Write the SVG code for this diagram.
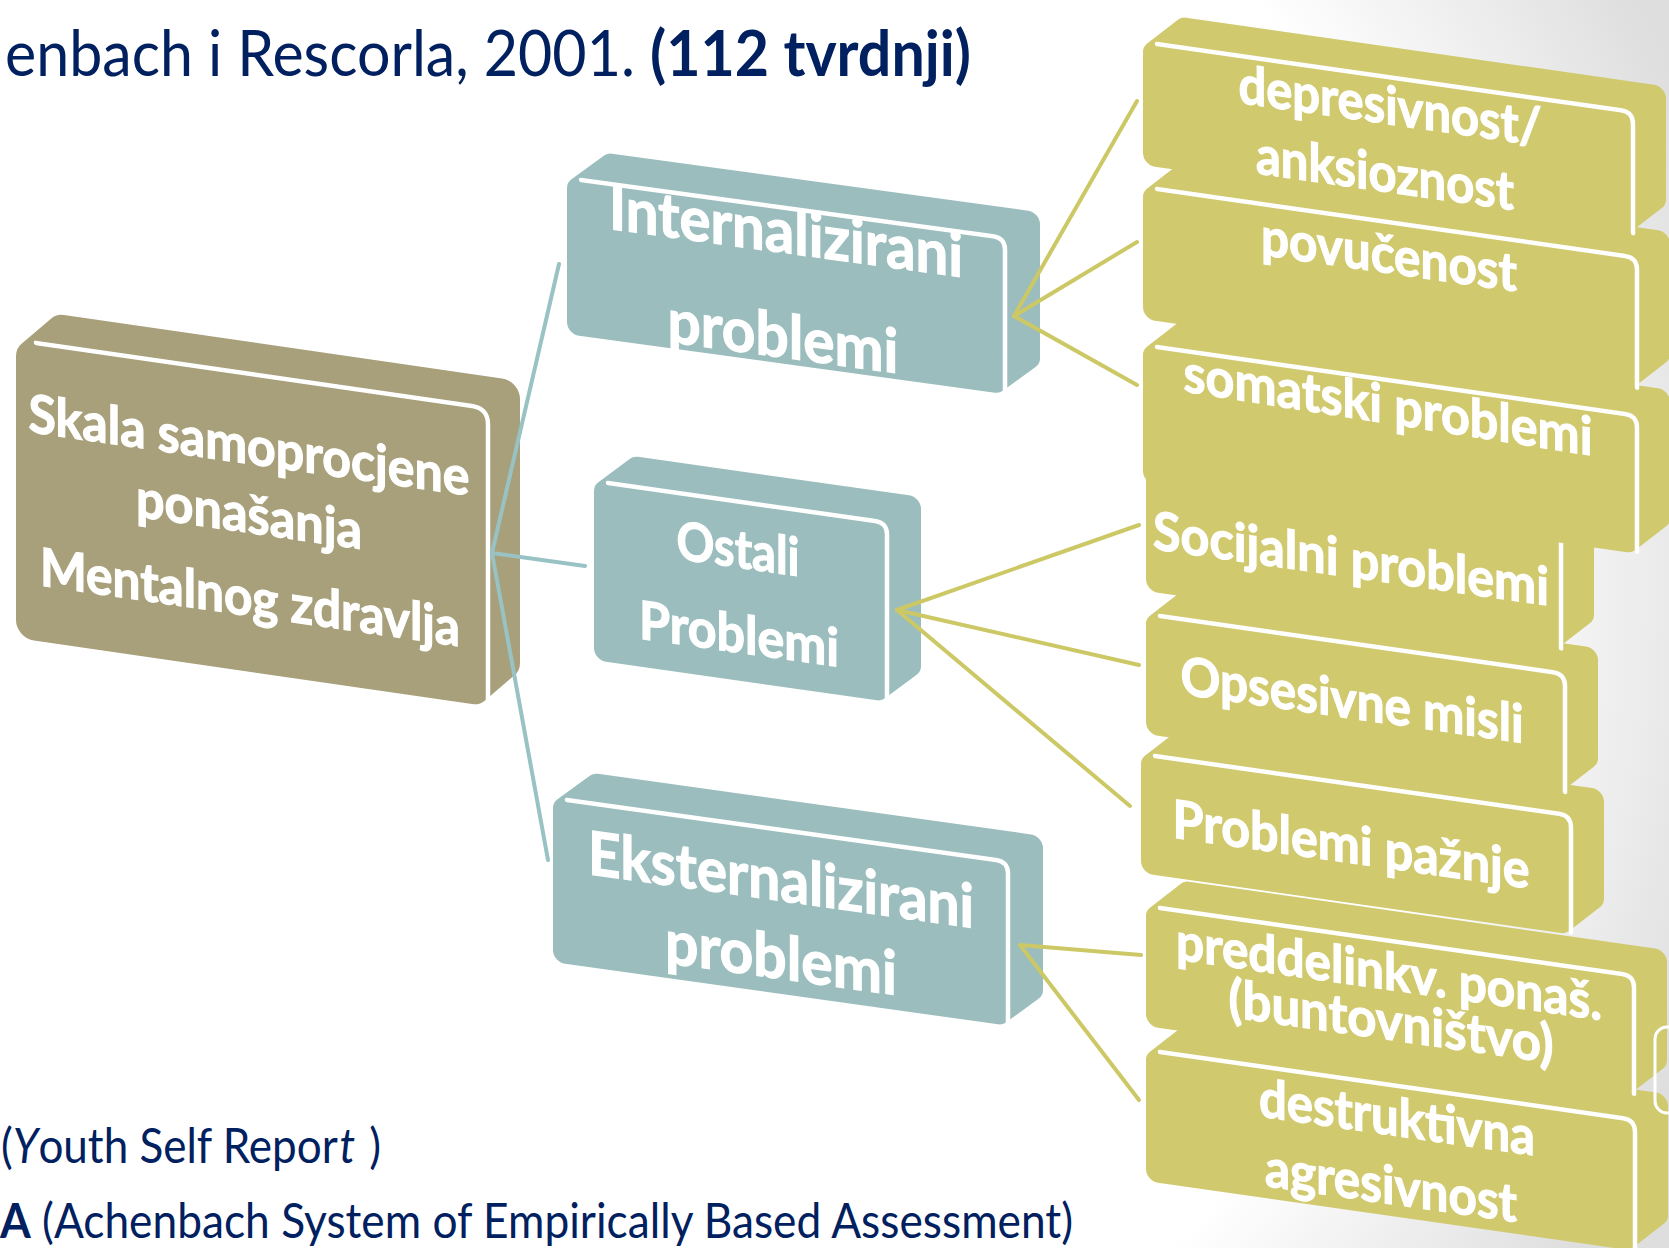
<svg xmlns="http://www.w3.org/2000/svg" width="1669" height="1248" viewBox="0 0 1669 1248">
<defs>
<radialGradient id="bg" gradientUnits="userSpaceOnUse" cx="560" cy="580" r="1220">
<stop offset="0" stop-color="#ffffff"/>
<stop offset="0.74" stop-color="#ffffff"/>
<stop offset="1" stop-color="#dedede"/>
</radialGradient>
<style>
.t{font-family:Lato,"Open Sans","Liberation Sans",sans-serif;font-weight:700;fill:#ffffff;stroke:#ffffff;stroke-width:1.2;text-anchor:middle}
.cap{font-family:Lato,"Open Sans","Liberation Sans",sans-serif;fill:#002060}
.edge{fill:none;stroke:#ffffff;stroke-width:4.5;stroke-linecap:round;stroke-linejoin:round}
.root{fill:#a7a07a;stroke:#a7a07a;stroke-width:36;stroke-linejoin:round}
.teal{fill:#9bbdbd;stroke:#9bbdbd;stroke-width:24;stroke-linejoin:round}
.yel{fill:#d0c96e;stroke:#d0c96e;stroke-width:24;stroke-linejoin:round}
.lt{stroke:#98c2c3;stroke-width:4;fill:none;stroke-linecap:round}
.ly{stroke:#cdc866;stroke-width:4;fill:none;stroke-linecap:round}
</style>
</defs>
<rect x="0" y="0" width="1669" height="1248" fill="url(#bg)"/>

<g id="captions">
<text class="cap" x="5" y="76" font-size="63.5" textLength="966" lengthAdjust="spacingAndGlyphs">enbach i Rescorla, 2001. <tspan font-weight="700">(112 tvrdnji)</tspan></text>
<text class="cap" x="1" y="1163" font-size="47.5" textLength="380" lengthAdjust="spacingAndGlyphs">(<tspan font-style="italic">Y</tspan>outh Self Repor<tspan font-style="italic" dx="2">t</tspan><tspan dx="3"> )</tspan></text>
<text class="cap" x="0" y="1238" font-size="47.5" textLength="1073" lengthAdjust="spacingAndGlyphs"><tspan font-weight="700">A</tspan> (Achenbach System of Empirically Based Assessment)</text>
</g>

<g id="node-root" transform="translate(16,338) skewY(8.25)">
<polygon class="root" points="18,18 48,-12 486,-12 486,252 456,282 18,282"/>
<path class="edge" d="M20 2 L456 2 Q472 2 472 18 L472 296"/>
<text class="t" x="233" y="92" font-size="53" textLength="441" lengthAdjust="spacingAndGlyphs">Skala samoprocjene</text>
<text class="t" x="233" y="161" font-size="53" textLength="226" lengthAdjust="spacingAndGlyphs">ponašanja</text>
<text class="t" x="234" y="244" font-size="53" textLength="420" lengthAdjust="spacingAndGlyphs">Mentalnog zdravlja</text>
</g>

<g id="node-internalizirani" transform="translate(567,176) skewY(7.8)">
<polygon class="teal" points="12,12 45,-16.5 461,-16.5 461,117.5 428,146 12,146"/>
<path class="edge" d="M14 2 L426 2 Q438 2 438 14 L438 156"/>
<text class="t" x="219" y="47" font-size="61" textLength="354" lengthAdjust="spacingAndGlyphs">Internalizirani</text>
<text class="t" x="216" y="152" font-size="61" textLength="231" lengthAdjust="spacingAndGlyphs">problemi</text>
</g>

<g id="node-ostali" transform="translate(594,479) skewY(8.1)">
<polygon class="teal" points="12,12 44,-16.5 315,-16.5 315,140.5 283,169 12,169"/>
<path class="edge" d="M14 2 L281 2 Q293 2 293 14 L293 179"/>
<text class="t" x="144" y="68" font-size="53" textLength="123" lengthAdjust="spacingAndGlyphs">Ostali</text>
<text class="t" x="145" y="153" font-size="53" textLength="200" lengthAdjust="spacingAndGlyphs">Problemi</text>
</g>

<g id="node-eksternalizirani" transform="translate(553,796) skewY(7.97)">
<polygon class="teal" points="12,12 45,-16.5 478,-16.5 478,125.5 445,154 12,154"/>
<path class="edge" d="M14 2 L443 2 Q455 2 455 14 L455 164"/>
<text class="t" x="228" y="73" font-size="60.5" textLength="386" lengthAdjust="spacingAndGlyphs">Eksternalizirani</text>
<text class="t" x="228" y="151" font-size="61" textLength="232" lengthAdjust="spacingAndGlyphs">problemi</text>
</g>

<g id="node-destruktivna" transform="translate(1146,1048) skewY(8.14)">
<polygon class="yel" points="12,12 43,-16.4 510,-16.4 510,92.6 479,121 12,121"/>
<path class="edge" d="M14 2 L477 2 Q489 2 489 14 L489 131"/>
<text class="t" x="251" y="52" font-size="53" textLength="276" lengthAdjust="spacingAndGlyphs">destruktivna</text>
<text class="t" x="245" y="121" font-size="53" textLength="252" lengthAdjust="spacingAndGlyphs">agresivnost</text>
</g>

<g id="node-preddelinkv" transform="translate(1146,904) skewY(8.14)">
<polygon class="yel" points="12,12 43,-16.4 509,-16.4 509,81.6 478,110 12,110"/>
<path class="edge" d="M14 2 L476 2 Q488 2 488 14 L488 120"/>
<text class="t" x="243" y="51" font-size="52" textLength="426" lengthAdjust="spacingAndGlyphs">preddelinkv. ponaš.</text>
<text class="t" x="245" y="101" font-size="53" textLength="325" lengthAdjust="spacingAndGlyphs">(buntovništvo)</text>
</g>

<g id="node-paznja" transform="translate(1141,752) skewY(8.14)">
<polygon class="yel" points="12,12 43,-16.4 451,-16.4 451,80.6 420,109 12,109"/>
<path class="edge" d="M14 2 L418 2 Q430 2 430 14 L430 119"/>
<text class="t" x="210" y="81" font-size="53" textLength="357" lengthAdjust="spacingAndGlyphs">Problemi pažnje</text>
</g>

<g id="node-opsesivne" transform="translate(1146,612) skewY(8.14)">
<polygon class="yel" points="12,12 43,-16.4 440,-16.4 440,81.6 409,110 12,110"/>
<path class="edge" d="M14 2 L407 2 Q419 2 419 14 L419 120"/>
<text class="t" x="206" y="77" font-size="53" textLength="343" lengthAdjust="spacingAndGlyphs">Opsesivne misli</text>
</g>

<g id="node-socijalni" transform="translate(1146,466) skewY(8.14)">
<polygon class="yel" points="12,12 43,-16.4 436,-16.4 436,84.6 405,113 12,113"/>
<path class="edge" d="M398 2 Q415 2 415 16 L415 123"/>
<text class="t" x="205" y="82" font-size="53" textLength="396" lengthAdjust="spacingAndGlyphs">Socijalni problemi</text>
</g>

<g id="node-somatski" transform="translate(1143,343) skewY(8.14)">
<polygon class="yel" points="12,12 43,-16.4 515,-16.4 515,99.6 484,128 12,128"/>
<path class="edge" d="M14 2 L482 2 Q494 2 494 14 L494 138"/>
<text class="t" x="245" y="42" font-size="53" textLength="409" lengthAdjust="spacingAndGlyphs" transform="skewY(0.8)">somatski problemi</text>
</g>

<g id="node-povucenost" transform="translate(1143,185) skewY(8.14)">
<polygon class="yel" points="12,12 43,-16.4 515,-16.4 515,93.6 484,122 12,122"/>
<path class="edge" d="M14 2 L482 2 Q494 2 494 14 L494 132"/>
<text class="t" x="246" y="53" font-size="53" textLength="256" lengthAdjust="spacingAndGlyphs">povučenost</text>
</g>

<g id="node-depresivnost" transform="translate(1143,40) skewY(8.14)">
<polygon class="yel" points="12,12 43,-16.4 511,-16.4 511,84.6 480,113 12,113"/>
<path class="edge" d="M14 2 L478 2 Q490 2 490 14 L490 123"/>
<text class="t" x="247" y="49" font-size="53" textLength="303" lengthAdjust="spacingAndGlyphs">depresivnost/</text>
<text class="t" x="242" y="117" font-size="53" textLength="258" lengthAdjust="spacingAndGlyphs">anksioznost</text>
</g>

<rect x="1655" y="1027" width="40" height="86" rx="12" fill="none" stroke="#ffffff" stroke-width="3"/>

<g id="connectors">
<line class="lt" x1="492" y1="553" x2="559" y2="264"/>
<line class="lt" x1="492" y1="553" x2="585" y2="566"/>
<line class="lt" x1="492" y1="553" x2="548" y2="860"/>
<line class="ly" x1="1014" y1="316" x2="1137" y2="101"/>
<line class="ly" x1="1014" y1="316" x2="1137" y2="242"/>
<line class="ly" x1="1014" y1="316" x2="1137" y2="385"/>
<line class="ly" x1="897" y1="610" x2="1139" y2="525"/>
<line class="ly" x1="897" y1="610" x2="1139" y2="665"/>
<line class="ly" x1="897" y1="610" x2="1130" y2="806"/>
<line class="ly" x1="1020" y1="945" x2="1141" y2="955"/>
<line class="ly" x1="1020" y1="945" x2="1139" y2="1100"/>
</g>
</svg>
